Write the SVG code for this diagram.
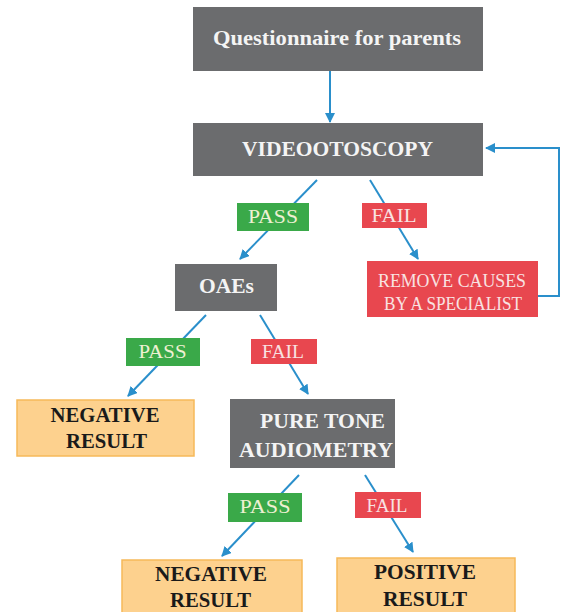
<svg xmlns="http://www.w3.org/2000/svg" width="563" height="612" viewBox="0 0 563 612">
<style>
.g{fill:#6b6c6e}
.o{fill:#fdd18e;stroke:#f6b959;stroke-width:1.5}
.r{fill:#e8474f}
.gr{fill:#3aa949}
text{font-family:"Liberation Serif","DejaVu Serif",serif}
.tw{font-weight:bold;fill:#f4f4f4;text-anchor:middle}
.tb{font-weight:bold;fill:#1a1a1a;text-anchor:middle;font-size:21px}
.tp{fill:#eef0d2;text-anchor:middle;font-size:19px}
.tf{fill:#f8e2e2;text-anchor:middle;font-size:19px}
.c{stroke:#2a8fcb;stroke-width:2;fill:none}
</style>
<defs>
<marker id="ah" viewBox="0 0 10 10" refX="9" refY="5" markerWidth="5" markerHeight="5" orient="auto" markerUnits="strokeWidth">
<path d="M0,0 L10,5 L0,10 z" fill="#2a8fcb"/>
</marker>
</defs>
<rect width="563" height="612" fill="#ffffff"/>
<g id="connectors">
<line class="c" x1="330" y1="71" x2="330" y2="122" marker-end="url(#ah)"/>
<polyline class="c" points="538,296 559,296 559,148 486,148" marker-end="url(#ah)"/>
<line class="c" x1="317" y1="180" x2="240" y2="259" marker-end="url(#ah)"/>
<line class="c" x1="370" y1="180" x2="418" y2="259" marker-end="url(#ah)"/>
<line class="c" x1="206" y1="315" x2="128" y2="396" marker-end="url(#ah)"/>
<line class="c" x1="260" y1="315" x2="308" y2="394" marker-end="url(#ah)"/>
<line class="c" x1="299" y1="475" x2="222" y2="556" marker-end="url(#ah)"/>
<line class="c" x1="365" y1="475" x2="413" y2="552" marker-end="url(#ah)"/>
</g>
<g id="questionnaire">
<rect class="g" x="193" y="7" width="290" height="64"/>
<text class="tw" x="337" y="45" font-size="22" textLength="248" lengthAdjust="spacingAndGlyphs">Questionnaire for parents</text>
</g>
<g id="videootoscopy">
<rect class="g" x="193" y="123" width="290" height="53"/>
<text class="tw" x="337.5" y="156" font-size="21" textLength="191" lengthAdjust="spacingAndGlyphs">VIDEOOTOSCOPY</text>
</g>
<g id="pass1">
<rect class="gr" x="237" y="203" width="72" height="28"/>
<text class="tp" x="273" y="223" textLength="50" lengthAdjust="spacingAndGlyphs">PASS</text>
</g>
<g id="fail1">
<rect class="r" x="362" y="203" width="65" height="25"/>
<text class="tf" x="394" y="222" textLength="45" lengthAdjust="spacingAndGlyphs">FAIL</text>
</g>
<g id="oaes">
<rect class="g" x="175" y="264" width="102" height="47"/>
<text class="tw" x="226.5" y="293" font-size="21" textLength="55" lengthAdjust="spacingAndGlyphs">OAEs</text>
</g>
<g id="remove">
<rect class="r" x="367" y="261" width="171" height="56"/>
<text class="tf" x="452" y="287" font-size="17" textLength="148" lengthAdjust="spacingAndGlyphs">REMOVE  CAUSES</text>
<text class="tf" x="453" y="310" font-size="17" textLength="138" lengthAdjust="spacingAndGlyphs">BY A SPECIALIST</text>
</g>
<g id="pass2">
<rect class="gr" x="126" y="338" width="74" height="28"/>
<text class="tp" x="162.5" y="358" textLength="48" lengthAdjust="spacingAndGlyphs">PASS</text>
</g>
<g id="fail2">
<rect class="r" x="251" y="339" width="66" height="25"/>
<text class="tf" x="283" y="358" textLength="42" lengthAdjust="spacingAndGlyphs">FAIL</text>
</g>
<g id="negative1">
<rect class="o" x="17" y="400" width="177" height="56"/>
<text class="tb" x="105" y="422" textLength="109" lengthAdjust="spacingAndGlyphs">NEGATIVE</text>
<text class="tb" x="106.5" y="448" textLength="81" lengthAdjust="spacingAndGlyphs">RESULT</text>
</g>
<g id="puretone">
<rect class="g" x="230" y="399" width="165" height="69"/>
<text class="tw" x="322.5" y="428" font-size="22" textLength="125" lengthAdjust="spacingAndGlyphs">PURE TONE</text>
<text class="tw" x="316" y="457" font-size="22" textLength="154" lengthAdjust="spacingAndGlyphs">AUDIOMETRY</text>
</g>
<g id="pass3">
<rect class="gr" x="228" y="493" width="74" height="29"/>
<text class="tp" x="265" y="513" textLength="51" lengthAdjust="spacingAndGlyphs">PASS</text>
</g>
<g id="fail3">
<rect class="r" x="355" y="492" width="66" height="26"/>
<text class="tf" x="387" y="512" textLength="41" lengthAdjust="spacingAndGlyphs">FAIL</text>
</g>
<g id="negative2">
<rect class="o" x="122" y="560" width="180" height="60"/>
<text class="tb" x="211" y="581" textLength="112" lengthAdjust="spacingAndGlyphs">NEGATIVE</text>
<text class="tb" x="210.5" y="607" textLength="81" lengthAdjust="spacingAndGlyphs">RESULT</text>
</g>
<g id="positive">
<rect class="o" x="337" y="558" width="178" height="60"/>
<text class="tb" x="425" y="579" textLength="102" lengthAdjust="spacingAndGlyphs">POSITIVE</text>
<text class="tb" x="425" y="606" textLength="84" lengthAdjust="spacingAndGlyphs">RESULT</text>
</g>
</svg>
